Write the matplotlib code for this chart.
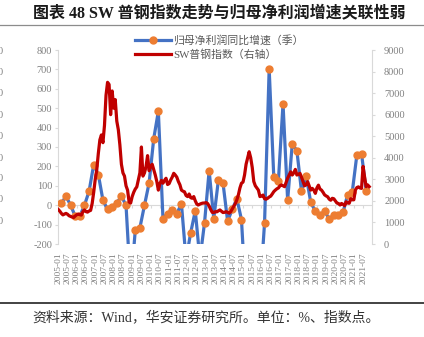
import numpy as np
import matplotlib
matplotlib.use("Agg")
import matplotlib.pyplot as plt
from matplotlib.lines import Line2D

# 归母净利润同比增速（季度，%），2005Q1 起
profit_growth = [10, 46, 0, -57, -57, 0, 72, 209, 158, 26,
                 -22, -9, 12, 46, 0, -420, -130, -117, 0, 115,
                 343, 484, -69, -43, -26, -43, 7, -280, -142, -29,
                 -280, -91, 178, -69, 129, 115, -82, -22, 34, -74,
                 -500, -650, -600, -450, -91, 703, 144, 127, 523, 26,
                 316, 281, 72, 153, 15, -31, -51, -31, -70, -53,
                 -48, -36, 55, 69, 261, 266, 75]

# SW普钢指数（月度），2005-01 起
steel_index = [
    1600, 1520, 1420, 1350, 1390, 1420, 1380, 1310, 1280, 1250, 1230, 1300,  # 2005
    1360, 1390, 1360, 1340, 1500, 1580, 1500, 1480, 1530, 1560, 1880, 2400,  # 2006
    3000, 3450, 4200, 4830, 5060, 4700, 5500, 6900, 7500, 7400, 6000, 7100,  # 2007
    6300, 6700, 5700, 5300, 4600, 3700, 3300, 3150, 2700, 2500, 1950, 1900,  # 2008
    2200, 2400, 2550, 2650, 2970, 3300, 4500, 3150, 3300, 3600, 4100, 3400,  # 2009
    3600, 3700, 3450, 3200, 2900, 2500, 2800, 2950, 2820, 2950, 3050, 2760,  # 2010
    2800, 2970, 3100, 3280, 3200, 3100, 2900, 2750, 2500, 2450, 2420, 2250,  # 2011
    2200, 2320, 2150, 2120, 2200, 2000, 1850, 1810, 1850, 1880, 1900, 1900,  # 2012
    1920, 1880, 1760, 1600, 1470, 1460, 1500, 1490, 1540, 1580, 1520, 1460,  # 2013
    1470, 1500, 1470, 1430, 1500, 1620, 1750, 1870, 2050, 2280, 2600, 2820,  # 2014
    2870, 3200, 3700, 4000, 4280, 4000, 3550, 2900, 2700, 2600, 2500, 2200,  # 2015
    2220, 2270, 2100, 2080, 2120, 2180, 2220, 2320, 2430, 2500, 2560, 2600,  # 2016
    2700, 2740, 2700, 2660, 2850, 3050, 3200, 3350, 3200, 3300, 3460, 3200,  # 2017
    3230, 3280, 3100, 2900, 2700, 2750, 2890, 2700, 2500, 2580, 2500, 2350,  # 2018
    2600, 2730, 2550, 2500, 2400, 2280, 2230, 2190, 2080, 2030, 2120, 2100,  # 2019
    2000, 1900, 1880, 1810, 1880, 1840, 1780, 1960, 1900, 1890, 2100, 2050,  # 2020
    2050, 2500, 2620, 2650, 2600, 2580, 3600, 3100, 2660, 2740, 2660,        # 2021
]

tick_labels = [f"{y}-{m:02d}" for y in range(2005, 2022) for m in (1, 7)]
left_ticks = list(range(-200, 801, 100))
right_ticks = list(range(0, 9001, 1000))

title = "图表 48 SW 普钢指数走势与归母净利润增速关联性弱"
source = "资料来源：Wind，华安证券研究所。单位：%、指数点。"
label_profit = "归母净利润同比增速（季）"
label_steel = "SW普钢指数（右轴）"

BLUE = "#4472C4"
ORANGE = "#ED7D31"
RED = "#C00000"
GRID = "#D9D9D9"
TXT = "#808080"
fam = ["Liberation Serif", "Noto Sans CJK SC"]

W, H = 424, 337
fig = plt.figure(figsize=(W / 100, H / 100), dpi=100)

q_month = np.arange(len(profit_growth)) * 3 + 2
m_month = np.arange(len(steel_index))

ax = fig.add_axes([58.3 / W, 1 - 244 / H, (372.3 - 58.3) / W, (244 - 50) / H])
ax.patch.set_visible(False)
ax.plot(q_month, profit_growth, color=BLUE, lw=2.3, marker="o", ms=5,
        mfc=ORANGE, mec=ORANGE, zorder=3)
ax.set_xlim(0, 204)
ax.set_ylim(-200, 800)
ax.set_yticks(left_ticks)
ax.set_yticklabels([str(v) for v in left_ticks], family=fam, fontsize=7.5, color=TXT)
ax.tick_params(axis="y", length=2.5, color=GRID, pad=2)
for s in ("top", "right"):
    ax.spines[s].set_visible(False)
ax.spines["left"].set_color(GRID)
# category axis crossing at 0
ax.spines["bottom"].set_position(("data", 0))
ax.spines["bottom"].set_color(GRID)
ax.set_xticks(np.arange(0, 204, 6))
ax.tick_params(axis="x", length=2.5, color=GRID, labelbottom=False)

sec = ax.secondary_xaxis("bottom")
sec.spines["bottom"].set_visible(False)
sec.set_xticks(np.arange(0, 204, 6))
sec.set_xticklabels(tick_labels, rotation=90, family=fam, fontsize=6.8, color=TXT)
sec.tick_params(axis="x", length=0, pad=6)

ax2 = ax.twinx()
ax2.plot(m_month, steel_index, color=RED, lw=2.3, zorder=4)
ax2.set_ylim(0, 9000)
ax2.set_yticks(right_ticks)
ax2.set_yticklabels([str(v) for v in right_ticks], family=fam, fontsize=7.5, color=TXT)
ax2.tick_params(axis="y", length=2.5, color=GRID, pad=6)
for s in ("top", "left", "bottom"):
    ax2.spines[s].set_visible(False)
ax2.spines["right"].set_color(GRID)

handles = [Line2D([], [], color=BLUE, lw=2.3, marker="o", ms=5, mfc=ORANGE, mec=ORANGE),
           Line2D([], [], color=RED, lw=2.3)]
leg = ax2.legend(handles, [label_profit, label_steel], loc="upper left",
                 bbox_to_anchor=(135 / W, 1 - 35 / H), bbox_transform=fig.transFigure,
                 frameon=False, borderpad=0, borderaxespad=0, handlelength=3.3,
                 handletextpad=0.2, labelspacing=0.35, prop={"family": fam, "size": 7.8})
for t in leg.get_texts():
    t.set_color("#595959")

fig.text(33 / W, 1 - 13 / H, title, ha="left", va="center", fontsize=11.5,
         fontweight="bold", family=["Liberation Serif", "Noto Sans CJK SC"], color="#1a1a1a")
fig.add_artist(Line2D([0, 1], [1 - 24.5 / H, 1 - 24.5 / H], color="#8c8c8c", lw=0.9))
fig.add_artist(Line2D([0, 1], [1 - 303 / H, 1 - 303 / H], color="#222222", lw=1.2))
fig.text(32 / W, 1 - 317.5 / H, source, ha="left", va="center", fontsize=10,
         family=fam, color="#333333")

# cut-off tick labels of the neighbouring chart at the left edge
for yp in (51.7, 72.7, 93.3, 115, 136.7, 158.3, 178.3, 200, 221.7):
    fig.text(2.5 / W, 1 - yp / H, "0", ha="right", va="center", fontsize=7.5,
             family=fam, color=TXT)

fig.savefig("out.png", dpi=100)
